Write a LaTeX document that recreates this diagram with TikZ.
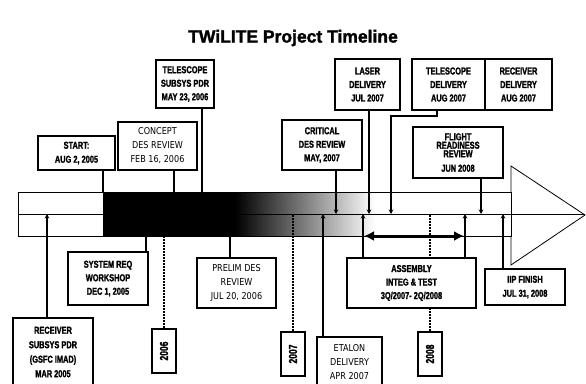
\documentclass[tikz,border=0pt]{standalone}
\usepackage{fontspec}
\setmainfont{Liberation Sans}
\newfontfamily\bfont[FakeStretch=0.74,FakeBold=1.6]{Liberation Sans Bold}
\newfontfamily\tfont[FakeBold=1.8]{Liberation Sans Bold}
\newfontfamily\rfont[FakeStretch=0.85]{DejaVu Sans}
\usetikzlibrary{arrows.meta}
\pgfdeclarelayer{back}
\pgfdeclarelayer{lines}
\pgfsetlayers{back,lines,main}
\begin{document}
\begin{tikzpicture}[x=1pt,y=-1pt,
  bbox/.style={draw, line width=1.6pt, fill=white, inner sep=0pt, align=center,
     font=\bfont\fontsize{10}{13.5}\selectfont},
  rbox/.style={draw, line width=1.2pt, fill=white, inner sep=0pt, align=center,
     font=\rfont\fontsize{9.5}{14}\selectfont},
  ybox/.style={draw, line width=1.6pt, fill=white, inner sep=0pt,
     minimum width=24pt, minimum height=44pt,
     font=\bfont\fontsize{11.5}{12}\selectfont},
  conn/.style={line width=1.1pt},
  arr/.style={line width=1.1pt, -{Stealth[length=4.5pt,width=4.5pt]}},
  yline/.style={line width=1.3pt, dash pattern=on 2pt off 1pt},
  outline/.style={line width=0.8pt}
]
\useasboundingbox (0,0) rectangle (586,383);
% title
\node[font=\tfont\fontsize{17.5}{20}\selectfont] (title) at (293,38) {TWiLITE Project Timeline};
\coordinate (mid) at (0,214);
\coordinate (top) at (0,192);
\coordinate (bot) at (0,236);
% top boxes
\node[bbox, minimum width=77pt, minimum height=34pt, font=\bfont\fontsize{10}{14}\selectfont] (start) at (76.5,153) {START:\\AUG 2, 2005};
\node[rbox, minimum width=79pt, minimum height=48pt] (concept) at (157.5,146) {CONCEPT\\DES REVIEW\\FEB 16, 2006};
\node[bbox, minimum width=58pt, minimum height=48pt] (telsub) at (185,84) {TELESCOPE\\SUBSYS PDR\\MAY 23, 2006};
\node[bbox, minimum width=80pt, minimum height=50pt] (critical) at (322,145) {CRITICAL\\DES REVIEW\\MAY, 2007};
\node[bbox, minimum width=65pt, minimum height=51pt] (laser) at (367.5,84.5) {LASER\\DELIVERY\\JUL 2007};
\node[bbox, minimum width=73pt, minimum height=51pt] (teldel) at (448.5,84.5) {TELESCOPE\\DELIVERY\\AUG 2007};
\node[bbox, minimum width=67pt, minimum height=51pt] (recdel) at (518.5,84.5) {RECEIVER\\DELIVERY\\AUG 2007};
\node[bbox, minimum width=90pt, minimum height=51pt, font=\bfont\fontsize{10}{8.5}\selectfont] (flight) at (458,152.5) {FLIGHT\\READINESS\\REVIEW\\[6pt]JUN 2008};
% bottom boxes
\node[bbox, minimum width=80pt, minimum height=53pt] (sysreq) at (108,278.5) {SYSTEM REQ\\WORKSHOP\\DEC 1, 2005};
\node[bbox, minimum width=80pt, minimum height=68pt, font=\bfont\fontsize{10}{14.5}\selectfont] (recsub) at (53,352) {RECEIVER\\SUBSYS PDR\\(GSFC IMAD)\\MAR 2005};
\node[rbox, minimum width=79pt, minimum height=50pt] (prelim) at (236.5,283) {PRELIM DES\\REVIEW\\JUL 20, 2006};
\node[rbox, minimum width=65pt, minimum height=50pt] (etalon) at (349.5,362) {ETALON\\DELIVERY\\APR 2007};
\node[bbox, minimum width=129pt, minimum height=50pt] (assembly) at (411.5,283) {ASSEMBLY\\INTEG \& TEST\\3Q/2007- 2Q/2008};
\node[bbox, minimum width=80pt, minimum height=36pt, font=\bfont\fontsize{10}{14}\selectfont] (iip) at (525,287) {IIP FINISH\\JUL 31, 2008};
% year boxes
\node[ybox] (y2006) at (164,351) {\rotatebox{90}{2006}};
\node[ybox] (y2007) at (293,354) {\rotatebox{90}{2007}};
\node[ybox] (y2008) at (430,354) {\rotatebox{90}{2008}};
% arrow body
\begin{pgfonlayer}{back}
\fill[black] (103,192) rectangle (235,236);
\shade[left color=black, right color=white] (235,192) rectangle (375,236);
\draw[outline] (18,192) rectangle (511,236);
\draw[outline] (511,192) -- (511,166) -- (585,215) -- (511,265) -- (511,236);
\draw[outline] (18,214) -- (585,214);
\end{pgfonlayer}
\begin{pgfonlayer}{lines}
% connectors above
\draw[conn] (start.south -| 103,0) -- (103,192);
\draw[conn] (concept.south -| 174,0) -- (174,192);
\draw[conn] (telsub.south -| 202,0) -- (202,192);
\draw[arr] (critical.south -| 336,0) -- (336,214);
\draw[arr] (laser.south -| 369,0) -- (369,214);
\draw[arr] (teldel.south -| 437,0) -- (437,116) -- (391,116) -- (391,214);
\draw[arr] (flight.south -| 481,0) -- (481,214);
% connectors below
\draw[arr] (recsub.north -| 47,0) -- (47,214);
\draw[conn] (sysreq.north -| 146,0) -- (146,236);
\draw[conn] (prelim.north -| 230,0) -- (230,236);
\draw[arr] (etalon.north -| 323,0) -- (323,214);
\draw[arr] (assembly.north -| 363,0) -- (363,214);
\draw[arr] (assembly.north -| 465,0) -- (465,214);
\draw[line width=3pt, {Latex[length=10pt,width=10pt]}-{Latex[length=10pt,width=10pt]}] (364,236) -- (464,236);
\draw[line width=2.5pt] (iip.north -| 503,0) -- (503,236);
\draw[arr] (503,236) -- (503,214);
% year lines
\draw[yline] (y2006.north) -- (y2006.north |- bot);
\draw[yline] (y2007.north) -- (y2007.north |- mid);
\draw[yline] (y2008.north) -- (y2008.north |- mid);
\end{pgfonlayer}
\end{tikzpicture}
\end{document}
